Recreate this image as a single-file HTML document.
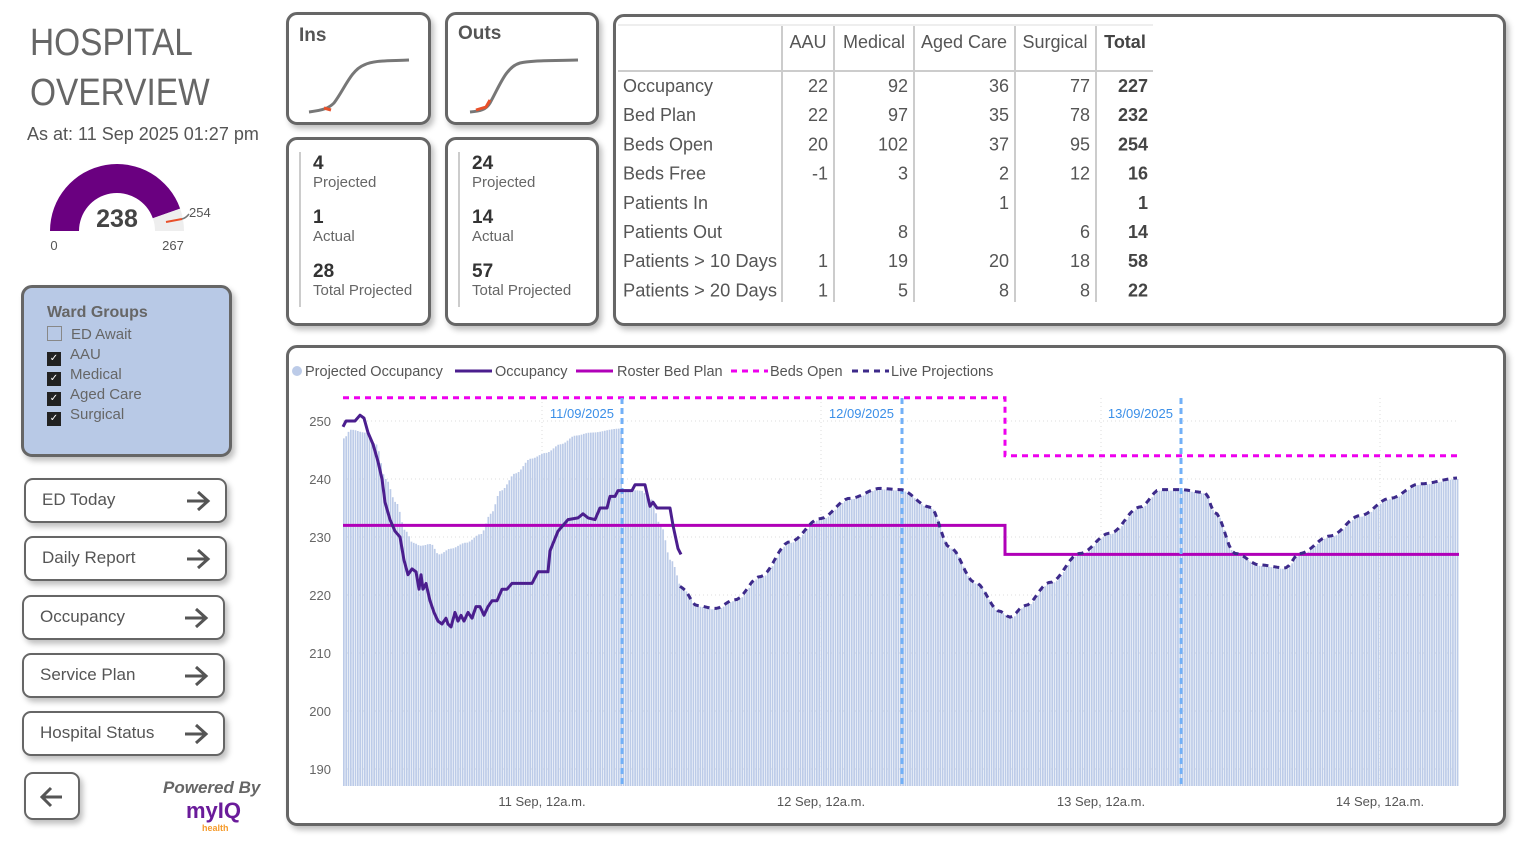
<!DOCTYPE html>
<html><head><meta charset="utf-8"><style>
body{margin:0;width:1521px;height:851px;background:#fff;font-family:"Liberation Sans",sans-serif;color:#555;position:relative;overflow:hidden}
.abs{position:absolute}
.card{position:absolute;border:3px solid #666;border-radius:11px;background:#fff;box-shadow:3px 4px 6px rgba(0,0,0,.25);box-sizing:border-box}
.btn{position:absolute;border:2px solid #666;border-radius:9px;background:#fff;box-shadow:3px 4px 6px rgba(0,0,0,.25);box-sizing:border-box;font-size:17px;color:#555;padding-left:16px;line-height:40px}
.btn svg{position:absolute;right:14px;top:10px}
.big{font-size:19px;font-weight:bold;color:#333}
.lbl{font-size:15px;color:#666}
.cb{display:inline-block;width:14px;height:14px;background:#222;vertical-align:-2px;margin-right:9px;color:#fff;font-size:10px;line-height:14px;text-align:center}
.wl div{height:20px;line-height:20px}
</style></head><body>
<div class="abs" style="left:30px;top:18px;font-size:38px;line-height:50px;color:#666;transform:scaleX(0.88);transform-origin:0 0">HOSPITAL<br>OVERVIEW</div>
<div class="abs" style="left:27px;top:124px;font-size:18px;color:#555">As at: 11 Sep 2025 01:27 pm</div>
<svg class="abs" style="left:0;top:150px" width="280" height="110">
<path id="g1" fill="#6a0080"/><path id="g2" fill="#eeeeee"/>
<text x="117" y="77" font-size="25" font-weight="bold" fill="#444" text-anchor="middle" font-family="Liberation Sans">238</text>
<text x="54" y="100" font-size="13" fill="#555" text-anchor="middle">0</text>
<text x="173" y="100" font-size="13" fill="#555" text-anchor="middle">267</text>
<text x="189" y="67" font-size="13" fill="#555">254</text>
<line x1="166" y1="72" x2="182" y2="69" stroke="#e8502a" stroke-width="2"/>
<path d="M182 69 Q186 68 189 64" stroke="#777" fill="none" stroke-width="1.5"/>
</svg>
<div class="card" style="left:21px;top:285px;width:211px;height:172px;background:#b8c9e6">
<div class="abs" style="left:23px;top:16px;font-size:16px;font-weight:bold;color:#666">Ward Groups</div>
<div class="abs wl" style="left:23px;top:37px;font-size:15px;color:#666">
<div><span class="cb" style="background:none;border:1px solid #888;width:13px;height:13px"></span>ED Await</div>
<div><span class="cb">✓</span>AAU</div>
<div><span class="cb">✓</span>Medical</div>
<div><span class="cb">✓</span>Aged Care</div>
<div><span class="cb">✓</span>Surgical</div></div></div>
<div class="btn" style="left:24px;top:478px;width:203px;height:45px">ED Today<svg width="26" height="22"><path d="M2 11H23M13 2L23 11L13 20" stroke="#555" stroke-width="3" fill="none"/></svg></div>
<div class="btn" style="left:24px;top:536px;width:203px;height:45px">Daily Report<svg width="26" height="22"><path d="M2 11H23M13 2L23 11L13 20" stroke="#555" stroke-width="3" fill="none"/></svg></div>
<div class="btn" style="left:22px;top:595px;width:203px;height:45px">Occupancy<svg width="26" height="22"><path d="M2 11H23M13 2L23 11L13 20" stroke="#555" stroke-width="3" fill="none"/></svg></div>
<div class="btn" style="left:22px;top:653px;width:203px;height:45px">Service Plan<svg width="26" height="22"><path d="M2 11H23M13 2L23 11L13 20" stroke="#555" stroke-width="3" fill="none"/></svg></div>
<div class="btn" style="left:22px;top:711px;width:203px;height:45px">Hospital Status<svg width="26" height="22"><path d="M2 11H23M13 2L23 11L13 20" stroke="#555" stroke-width="3" fill="none"/></svg></div>
<div class="btn" style="left:24px;top:772px;width:56px;height:48px;padding:0"><svg width="24" height="22" style="right:14px;top:12px"><path d="M22 11H2M11 2L2 11L11 20" stroke="#555" stroke-width="3" fill="none"/></svg></div>
<div class="abs" style="left:163px;top:778px;font-size:17px;font-style:italic;font-weight:bold;color:#666">Powered By</div>
<div class="abs" style="left:186px;top:798px;font-size:22px;font-weight:bold;color:#6a1b9a">myIQ</div>
<div class="abs" style="left:202px;top:823px;font-size:9px;font-weight:bold;color:#f59a2a">health</div>

<div class="card" style="left:286px;top:12px;width:145px;height:113px"><div class="abs big" style="left:10px;top:10px;color:#555">Ins</div>
<svg class="abs" style="left:0;top:0" width="140" height="110"><path d="M20 97 C35 95 40 93 45 88 C55 75 62 55 75 50 C85 45 100 46 120 45" stroke="#777" stroke-width="3" fill="none"/><path d="M35 93 L42 95" stroke="#e8502a" stroke-width="3"/></svg></div>
<div class="card" style="left:445px;top:12px;width:154px;height:113px"><div class="abs big" style="left:10px;top:8px;color:#555">Outs</div>
<svg class="abs" style="left:0;top:0" width="150" height="110"><path d="M22 97 C32 96 38 95 42 88 C52 70 58 52 72 48 C85 45 105 46 130 45" stroke="#777" stroke-width="3" fill="none"/><path d="M28 95 L38 92 L42 85" stroke="#e8502a" stroke-width="3" fill="none"/></svg></div>
<div class="card" style="left:286px;top:137px;width:145px;height:189px"><div class="abs" style="left:10px;top:12px;width:2px;height:155px;background:#ccc"></div>
<div class="abs" style="left:24px;top:14px;line-height:19px"><div class="big">4</div><div class="lbl">Projected</div><div class="big" style="margin-top:16px">1</div><div class="lbl">Actual</div><div class="big" style="margin-top:16px">28</div><div class="lbl">Total Projected</div></div></div>
<div class="card" style="left:445px;top:137px;width:154px;height:189px"><div class="abs" style="left:10px;top:12px;width:2px;height:155px;background:#ccc"></div>
<div class="abs" style="left:24px;top:14px;line-height:19px"><div class="big">24</div><div class="lbl">Projected</div><div class="big" style="margin-top:16px">14</div><div class="lbl">Actual</div><div class="big" style="margin-top:16px">57</div><div class="lbl">Total Projected</div></div></div>

<div class="card" style="left:613px;top:14px;width:893px;height:312px">
<svg class="abs" style="left:-3px;top:-3px" width="893" height="312" font-family="Liberation Sans" font-size="18" fill="#555">
<g stroke="#ccc" stroke-width="2"><line x1="5" y1="57" x2="540" y2="57"/><line x1="5" y1="11" x2="540" y2="11" stroke="#eee"/>
<line x1="169" y1="12" x2="169" y2="288"/><line x1="221" y1="12" x2="221" y2="288"/><line x1="301" y1="12" x2="301" y2="288"/><line x1="402" y1="12" x2="402" y2="288"/><line x1="483" y1="12" x2="483" y2="288"/></g>
<g text-anchor="middle"><text x="195" y="34">AAU</text><text x="261" y="34">Medical</text><text x="351" y="34">Aged Care</text><text x="442" y="34">Surgical</text><text x="512" y="34" font-weight="bold" fill="#444">Total</text></g>
<g id="rows"></g></svg></div>

<div class="card" style="left:286px;top:345px;width:1220px;height:481px"></div>
<svg class="abs" style="left:0;top:0" width="1521" height="851" id="ch" font-family="Liberation Sans"></svg>
<script>
(function(){var cx=117,cy=81,R=67,r=38;function arc(a0,a1){function p(rad,f){var t=Math.PI*(1-f);return [cx+rad*Math.cos(t),cy-rad*Math.sin(t)];}
var A=p(R,a0),B=p(R,a1),C=p(r,a1),D=p(r,a0);return "M"+A+" A"+R+","+R+" 0 0 1 "+B+" L"+C+" A"+r+","+r+" 0 0 0 "+D+"Z";}
document.getElementById('g1').setAttribute('d',arc(0,238/267));document.getElementById('g2').setAttribute('d',arc(238/267,1));})();
(function(){var rows=[["Occupancy","22","92","36","77","227"],["Bed Plan","22","97","35","78","232"],["Beds Open","20","102","37","95","254"],["Beds Free","-1","3","2","12","16"],["Patients In","","","1","","1"],["Patients Out","","8","","6","14"],["Patients > 10 Days","1","19","20","18","58"],["Patients > 20 Days","1","5","8","8","22"]];
var xs=[215,295,396,477],s="";rows.forEach(function(r,i){var y=78+i*29.2;s+='<text x="10" y="'+y+'"'+(r[0].length>15?' textLength="154" lengthAdjust="spacingAndGlyphs"':'')+'>'+r[0].replace('>','&gt;')+'</text>';for(var j=1;j<6;j++)if(r[j])s+='<text x="'+(j==5?535:xs[j-1])+'" y="'+y+'" text-anchor="end"'+(j==5?' font-weight="bold" fill="#444"':'')+'>'+r[j]+'</text>';});
document.getElementById('rows').innerHTML=s;})();
(function(){var Y=function(v){return 421+(250-v)*5.8;};var s='';
function interp(pts,x){for(var i=1;i<pts.length;i++){if(x<=pts[i][0]){var a=pts[i-1],b=pts[i];var t=(x-a[0])/(b[0]-a[0]);return a[1]+(b[1]-a[1])*(0.5-0.5*Math.cos(Math.PI*t));}}return pts[pts.length-1][1];}
var P=[[343,247],[350,248.5],[365,248],[375,246],[385,240],[395,236],[405,231],[412,229],[420,228.5],[430,228.8],[438,227],[450,228],[465,229],[480,230.5],[490,234],[500,238],[515,241],[530,243.5],[545,244.5],[560,246],[575,247.5],[590,248],[620,248.7],[622,238.3],[640,238],[650,236.5],[660,232],[670,226],[682,221],[697,218],[715,217.5],[735,219],[760,223],[790,229],[820,233],[850,236.5],[880,238.2],[900,238],[930,235],[950,228],[975,222],[1000,217],[1010,216],[1025,218],[1050,222],[1080,227],[1110,230.5],[1140,235],[1160,238],[1180,238],[1205,237.5],[1215,234],[1235,227],[1260,225],[1285,224.5],[1300,227],[1330,230],[1360,233.5],[1390,236.5],[1420,239],[1459,240]];
for(var v=190;v<=250;v+=10){s+='<line x1="343" x2="1459" y1="'+Y(v)+'" y2="'+Y(v)+'" stroke="#ddd" stroke-dasharray="1,3"/><text x="331" y="'+(Y(v)+5)+'" text-anchor="end" font-size="13" fill="#666">'+v+'</text>';}
[542,821,1101,1380].forEach(function(x,i){s+='<line x1="'+x+'" x2="'+x+'" y1="398" y2="786" stroke="#ddd" stroke-dasharray="1,3"/><text x="'+x+'" y="806" text-anchor="middle" font-size="13" fill="#555">'+(11+i)+' Sep, 12a.m.</text>';});
var b='';for(var x=343;x<1459;x+=2.33){var v=interp(P,x);b+='M'+x.toFixed(2)+' 786V'+Y(v).toFixed(1)+'h1.7V786z';}
s+='<path d="'+b+'" fill="#bccbe8"/>';
s+='<path d="M343 525.4H1005V554.4H1459" stroke="#b000b8" stroke-width="3" fill="none"/>';
s+='<path d="M343 397.8H1005V455.8H1459" stroke="#ee00ee" stroke-width="3" stroke-dasharray="6,5" fill="none"/>';
[[622,'11/09/2025'],[902,'12/09/2025'],[1181,'13/09/2025']].forEach(function(d){s+='<line x1="'+d[0]+'" x2="'+d[0]+'" y1="398" y2="786" stroke="#72b0f7" stroke-width="3" stroke-dasharray="6,4"/><text x="'+(d[0]-8)+'" y="418" text-anchor="end" font-size="13" fill="#3b8fe8">'+d[1]+'</text>';});
var l='';for(var x=680;x<=1459;x+=3){l+=(x==680?'M':'L')+x+' '+(Y(interp(P,x))-1).toFixed(1);}
s+='<path d="'+l+'" stroke="#3d2a8a" stroke-width="3" stroke-dasharray="6,5" fill="none"/>';
var O=[[343,249],[346,250],[355,250],[360,251],[364,250.5],[368,248],[373,246],[378,243],[382,240],[385,236],[390,233],[395,231],[400,230],[404,226],[408,223.5],[412,224.5],[416,224],[419,221],[421,223.5],[423,221],[426,222],[430,219],[434,217],[438,215.5],[442,215],[446,216],[448,215],[451,214.5],[455,217],[458,215.5],[461,216.5],[464,215.5],[468,217],[472,216],[476,218],[480,218],[484,216.5],[488,218],[492,219],[497,219],[502,221],[507,221],[512,222],[532,222],[538,224],[548,224],[550,227.6],[558,231],[568,233],[578,233.3],[583,234],[588,233.3],[595,233],[600,235],[607,235],[610,237],[615,237],[618,238],[632,238],[635,239],[645,239],[650,235.3],[653,236],[657,235],[670,235],[673,232],[678,228],[681,227]];
var o='';O.forEach(function(p,i){o+=(i?'L':'M')+p[0]+' '+Y(p[1]).toFixed(1);});
s+='<path d="'+o+'" stroke="#4b1e8e" stroke-width="3" fill="none" stroke-linejoin="round"/>';
s+='<g font-size="14.5" fill="#555"><circle cx="297" cy="371" r="5" fill="#bccbe8"/><text x="305" y="376">Projected Occupancy</text><line x1="455" x2="492" y1="371" y2="371" stroke="#4b1e8e" stroke-width="3"/><text x="495" y="376">Occupancy</text><line x1="576" x2="613" y1="371" y2="371" stroke="#b000b8" stroke-width="3"/><text x="617" y="376">Roster Bed Plan</text><line x1="731" x2="768" y1="371" y2="371" stroke="#ee00ee" stroke-width="3" stroke-dasharray="6,5"/><text x="770" y="376">Beds Open</text><line x1="852" x2="889" y1="371" y2="371" stroke="#3d2a8a" stroke-width="3" stroke-dasharray="6,5"/><text x="891" y="376">Live Projections</text></g>';
document.getElementById('ch').innerHTML=s;})();
</script>
</body></html>
